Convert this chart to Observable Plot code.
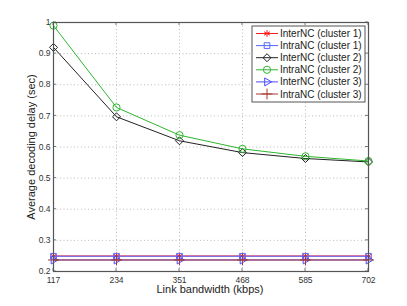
<!DOCTYPE html>
<html><head><meta charset="utf-8">
<script src="https://cdn.jsdelivr.net/npm/d3@7"></script>
<script src="https://cdn.jsdelivr.net/npm/@observablehq/plot@0.6"></script>
<style>body{margin:0;background:#fff}#c{width:407px;height:306px}</style>
</head><body><div id="c"></div>
<script>
const bandwidth = [117, 234, 351, 468, 585, 702];
const interC1 = [0.250, 0.250, 0.250, 0.250, 0.250, 0.250];
const intraC1 = [0.249, 0.249, 0.249, 0.249, 0.249, 0.249];
const interC2 = [0.920, 0.697, 0.620, 0.582, 0.563, 0.552];
const intraC2 = [0.990, 0.727, 0.638, 0.594, 0.570, 0.555];
const interC3 = [0.237, 0.237, 0.237, 0.237, 0.237, 0.237];
const intraC3 = [0.237, 0.237, 0.237, 0.237, 0.237, 0.237];
const yTicks = [0.2, 0.3, 0.4, 0.5, 0.6, 0.7, 0.8, 0.9, 1];
const yTickLabels = ["0.2","0.3","0.4","0.5","0.6","0.7","0.8","0.9","1"];
const xLabel = "Link bandwidth (kbps)";
const yLabel = "Average decoding delay (sec)";
const seriesNames = ["InterNC (cluster 1)","IntraNC (cluster 1)","InterNC (cluster 2)","IntraNC (cluster 2)","InterNC (cluster 3)","IntraNC (cluster 3)"];
const seriesValues = [interC1, intraC1, interC2, intraC2, interC3, intraC3];

const styles = [
  {color:"#ff1a1a", symbol:"asterisk", r:3.2, rotate:0},
  {color:"#5566ff", symbol:"square2", r:3.6, rotate:0},
  {color:"#222222", symbol:"diamond2", r:3.6, rotate:0},
  {color:"#2fb52f", symbol:"circle", r:3.6, rotate:0},
  {color:"#4b4bff", symbol:"triangle2", r:3.8, rotate:90},
  {color:"#a8392f", symbol:"plus", r:3.6, rotate:0}
];
const font = "Liberation Sans, Arial, sans-serif";

const marks = [];
marks.push(Plot.ruleY(yTicks.slice(1,-1), {y: d=>d, stroke:"#aaa", strokeDasharray:"1,2.5", strokeWidth:0.8}));
marks.push(Plot.ruleX(bandwidth.slice(1,-1), {x: d=>d, stroke:"#aaa", strokeDasharray:"1,2.5", strokeWidth:0.8}));
seriesValues.forEach((vals, i) => {
  const data = bandwidth.map((b, j) => ({x: b, y: vals[j]}));
  const s = styles[i];
  marks.push(Plot.line(data, {x:"x", y:"y", stroke:s.color, strokeWidth:1}));
  marks.push(Plot.dot(data, {x:"x", y:"y", symbol:()=>s.symbol, r:s.r, stroke:s.color, fill:"none", strokeWidth:1, rotate:s.rotate}));
});
marks.push(Plot.frame({stroke:"#555", strokeWidth:1.2}));

const chart = Plot.plot({
  width: 407, height: 306,
  marginLeft: 53, marginRight: 39, marginTop: 22, marginBottom: 35,
  style: {fontFamily: font, fontSize: "8.5px", background:"#fff", color:"#333"},
  x: {domain:[117, 702], ticks: bandwidth, tickSize: 0, tickPadding: 5, label: null, tickFormat: d=>String(d)},
  y: {domain:[0.2, 1], ticks: yTicks, tickSize: 0, tickPadding: 3, label: null, tickFormat: d=>yTickLabels[yTicks.indexOf(d)] ?? d},
  marks
});
document.getElementById("c").appendChild(chart);

const svg = d3.select(chart);
const xs = chart.scale("x"), ys = chart.scale("y");
// inward tick marks
const tg = svg.append("g").attr("stroke","#555").attr("stroke-width",0.8);
bandwidth.forEach(b => {
  const px = xs.apply(b);
  tg.append("line").attr("x1",px).attr("x2",px).attr("y1",271).attr("y2",268);
  tg.append("line").attr("x1",px).attr("x2",px).attr("y1",22).attr("y2",25);
});
yTicks.forEach(v => {
  const py = ys.apply(v);
  tg.append("line").attr("x1",53).attr("x2",56).attr("y1",py).attr("y2",py);
  tg.append("line").attr("x1",368).attr("x2",365).attr("y1",py).attr("y2",py);
});
// axis labels
svg.append("text").attr("x",210).attr("y",293).attr("text-anchor","middle").attr("font-family",font).attr("font-size","11px").attr("fill","#222").text(xLabel);
svg.append("text").attr("transform","translate(35,147) rotate(-90)").attr("text-anchor","middle").attr("font-family",font).attr("font-size","11px").attr("fill","#222").text(yLabel);

// legend
const lg = svg.append("g").attr("font-family", font).attr("font-size", "10px").attr("text-anchor","start");
lg.append("rect").attr("x",252).attr("y",26).attr("width",113).attr("height",76).attr("fill","#fff").attr("stroke","#555").attr("stroke-width",1);
const sym = {asterisk:d3.symbolAsterisk, square2:d3.symbolSquare2, diamond2:d3.symbolDiamond2, circle:d3.symbolCircle, triangle2:d3.symbolTriangle2, plus:d3.symbolPlus};
seriesNames.forEach((n, i) => {
  const y = 33.5 + i*12.1, s = styles[i];
  lg.append("line").attr("x1",256).attr("x2",278).attr("y1",y).attr("y2",y).attr("stroke",s.color).attr("stroke-width",1);
  lg.append("path").attr("d", d3.symbol(sym[s.symbol], Math.PI*s.r*s.r)()).attr("transform",`translate(267,${y}) rotate(${s.rotate})`).attr("fill","none").attr("stroke",s.color).attr("stroke-width",1);
  lg.append("text").attr("x",280).attr("y",y).attr("dy","0.35em").attr("fill","#222").text(n);
});
</script></body></html>
